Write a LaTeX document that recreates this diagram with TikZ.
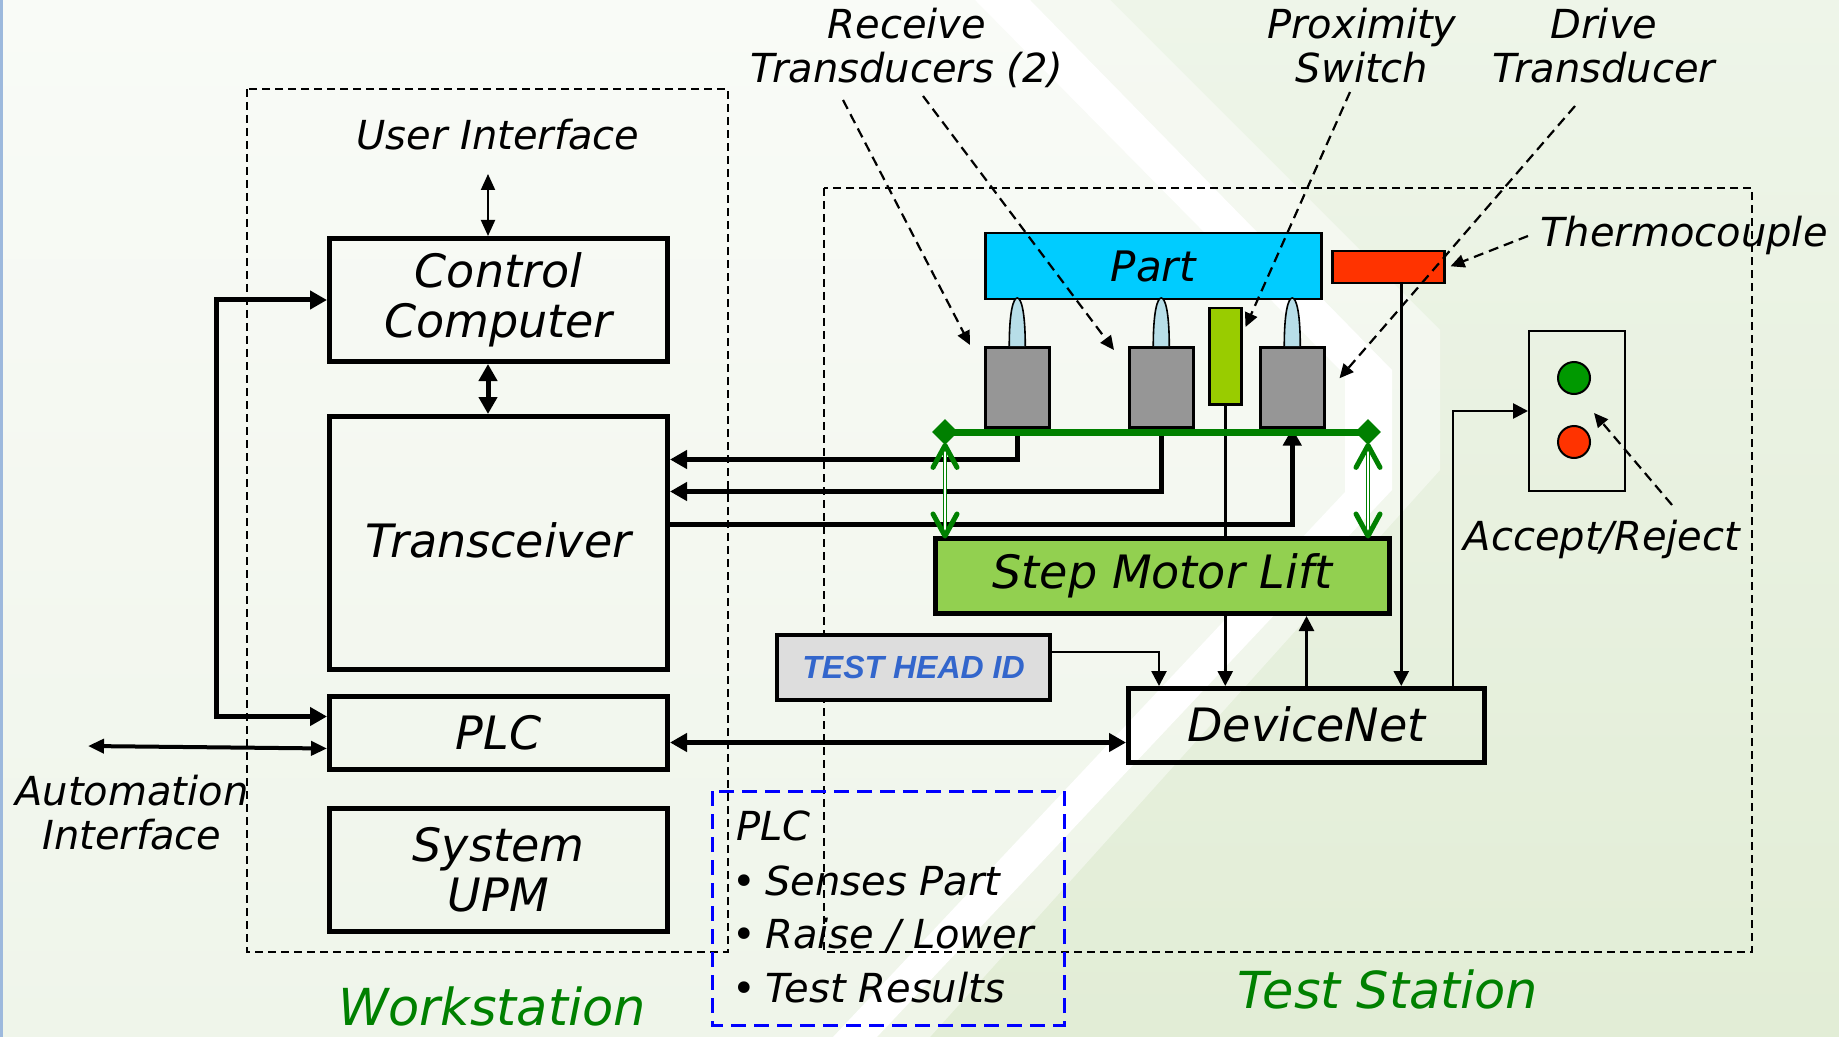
\documentclass[tikz,border=0pt]{standalone}
\usepackage{fontspec}
\setmainfont{DejaVu Sans}
\newfontfamily\arialfont{Liberation Sans}
\usetikzlibrary{arrows.meta,shapes.geometric,calc}
\definecolor{bgA}{HTML}{F9FBF7}
\definecolor{bgD}{HTML}{EFF5EA}
\definecolor{bgB}{HTML}{EEF5E9}
\definecolor{bgC}{HTML}{E2EDD6}
\definecolor{partblue}{HTML}{00CCFF}
\definecolor{smgreen}{HTML}{92D050}
\definecolor{proxgreen}{HTML}{99CC00}
\definecolor{tcred}{HTML}{FF3300}
\definecolor{tdgray}{HTML}{969696}
\definecolor{probec}{HTML}{B7DEE8}
\definecolor{busgreen}{HTML}{008000}
\definecolor{lampgreen}{HTML}{009900}
\definecolor{thidgray}{HTML}{DDDDDD}
\definecolor{thidblue}{HTML}{3366CC}
\definecolor{edgeblue}{HTML}{9DB9DD}
\tikzset{
  box/.style={draw=black, line width=2.5pt, inner sep=0pt, anchor=north west,
    font=\fontsize{23}{25}\selectfont\itshape, align=center},
  dev/.style={draw=black, line width=1.25pt, inner sep=0pt, anchor=north west},
  lbl/.style={font=\fontsize{20}{22}\selectfont\itshape, inner sep=0pt, align=center},
  bigl/.style={font=\fontsize{25.5}{27}\selectfont\itshape, text=busgreen, inner sep=0pt},
  notetext/.style={font=\fontsize{20}{22}\selectfont\itshape, inner sep=0pt},
  regionbox/.style={draw=black, line width=0.8pt, dash pattern=on 4pt off 2.5pt},
  notebox/.style={draw=blue, line width=1.5pt, dash pattern=on 7.5pt off 4pt},
  thickc/.style={draw=black, line width=2.5pt},
  medc/.style={draw=black, line width=1.3pt},
  thinc/.style={draw=black, line width=1pt},
  autoc/.style={draw=black, line width=2pt},
  ttip/.tip={Triangle[length=8.5pt,width=9pt]},
  mtip/.tip={Triangle[length=7.5pt,width=7.5pt]},
  stip/.tip={Triangle[length=8pt,width=7pt]},
  callout/.style={draw=black, line width=1.1pt, dash pattern=on 5pt off 3pt,
    -{Triangle[length=7pt,width=6.5pt]}},
  gdouble/.style={draw=busgreen, line width=0.6pt, double=white, double distance=1pt},
  gchev/.style={draw=busgreen, line width=2.5pt, line cap=round, line join=round},
  probe/.style={draw=black, line width=0.8pt, fill=probec},
}
\begin{document}
\begin{tikzpicture}[x=0.5pt,y=-0.5pt]
\useasboundingbox (0,0) rectangle (1839,1037);
% background
\shade[top color=bgA, bottom color=bgD] (0,0) rectangle (1839,1037);
\shade[top color=bgB, bottom color=bgC] (1030,0) -- (1839,0) -- (1839,1037) -- (877,1037) -- (1392,490) -- (1392,370) -- cycle;
\fill[white, opacity=0.45] (1030,0) -- (1110,0) -- (1440,330) -- (1440,470) -- (930,1037) -- (877,1037) -- (1392,490) -- (1392,370) -- cycle;
\fill[white] (975,0) -- (1030,0) -- (1392,370) -- (1392,490) -- (877,1037) -- (833,1037) -- (1345,492) -- (1345,375) -- cycle;
\fill[edgeblue] (0,0) rectangle (3,1037);
% region boxes
\draw[regionbox] (247,89) rectangle (728,952);
\draw[regionbox] (824,188) rectangle (1752,952);
\draw[notebox] (712,791) rectangle (1064,1025);

% workstation nodes
\node[box, minimum width=169pt, minimum height=61.5pt] (cc) at (327,236) {Control\\Computer};
\node[box, minimum width=169pt, minimum height=126.5pt] (trans) at (327,414) {\raisebox{2.5pt}{Transceiver}};
\node[box, minimum width=169pt, minimum height=36.5pt] (plc) at (327,694) {\raisebox{1pt}{PLC}};
\node[box, minimum width=169pt, minimum height=61.5pt] (upm) at (327,806) {System\\UPM};

% test station nodes
\node[box, fill=smgreen, minimum width=227pt, minimum height=37.5pt] (sml) at (933,536) {Step Motor Lift};
\node[box, minimum width=178pt, minimum height=37pt] (dnet) at (1126,686) {\raisebox{1pt}{DeviceNet}};
\node[box, fill=thidgray, line width=2pt, minimum width=136.5pt, minimum height=32.5pt,
  font=\arialfont\bfseries\itshape\fontsize{16}{18}\selectfont, text=thidblue] (thid) at (775,633) {TEST HEAD ID};

\node[dev, fill=partblue, minimum width=168pt, minimum height=33pt, font=\fontsize{21}{23}\selectfont\itshape] (part) at (984,232) {Part};
\node[dev, fill=tdgray, minimum width=32pt, minimum height=40pt] (t1) at (984,346) {};
\node[dev, fill=tdgray, minimum width=32pt, minimum height=40pt] (t2) at (1128,346) {};
\node[dev, fill=tdgray, minimum width=32pt, minimum height=40pt] (t3) at (1259,346) {};
\node[dev, fill=proxgreen, minimum width=16pt, minimum height=48pt] (prox) at (1208,307) {};
\node[dev, fill=tcred, minimum width=56pt, minimum height=16pt] (thermo) at (1331,250) {};
\node[dev, line width=1pt, minimum width=48pt, minimum height=80pt] (lamp) at (1528,330) {};
\node[circle, draw=black, line width=1pt, fill=lampgreen, minimum size=16pt, inner sep=0pt] (gl) at (1574,378) {};
\node[circle, draw=black, line width=1pt, fill=tcred, minimum size=16pt, inner sep=0pt] (rl) at (1574,442) {};

% probes
\foreach \t in {t1,t2,t3}{
  \draw[probe] ($(\t.north)+(-8,0)$) .. controls ($(\t.north)+(-8,-34)$) and ($(\t.north)+(-4,-48)$) .. ($(\t.north)+(0,-48)$)
    .. controls ($(\t.north)+(4,-48)$) and ($(\t.north)+(8,-34)$) .. ($(\t.north)+(8,0)$);
}

% labels (multi-line nodes: base = last line)
\node[lbl, anchor=base] (ui) at (498,150) {User Interface};
\node[lbl, anchor=base] (autol) at (132,849) {Automation\\Interface};
\node[lbl, anchor=base] (recv) at (907,83) {Receive\\Transducers (2)};
\node[lbl, anchor=base] (proxl) at (1362,83) {Proximity\\Switch};
\node[lbl, anchor=base] (drivel) at (1604,83) {Drive\\Transducer};
\node[lbl, anchor=base] (tcl) at (1684,247) {Thermocouple};
\node[lbl, anchor=base] (arl) at (1602,550) {Accept/Reject};
\node[bigl, anchor=base] (wsl) at (492,1025) {Workstation};
\node[bigl, anchor=base] (tsl) at (1388,1008) {Test Station};

% PLC note
\node[notetext, anchor=base west] (n0) at (736,840) {PLC};
\node[notetext, anchor=base west] (n1) at (732,895) {\makebox[16.5pt][l]{•}Senses Part};
\node[notetext, anchor=base west] (n2) at (732,948) {\makebox[16.5pt][l]{•}Raise / Lower};
\node[notetext, anchor=base west] (n3) at (732,1002) {\makebox[16.5pt][l]{•}Test Results};

% workstation connectors
\coordinate (uia) at (488,174);
\draw[thinc, stip-stip] (uia) -- (uia |- cc.north);
\draw[thickc, ttip-ttip] (cc.south -| uia) -- (trans.north -| uia);
\coordinate (busx) at (216,0);
\draw[thickc, ttip-ttip] (cc.west) -- (cc.west -| busx) -- ([yshift=8.25pt]plc.west -| busx) -- ([yshift=8.25pt]plc.west);
\coordinate (autoend) at (88,746);
\draw[autoc, stip-stip] (autoend) -- ([yshift=-7.75pt]plc.west);
\draw[thickc, ttip-ttip] ([yshift=-4.75pt]plc.east) -- ([yshift=-4.75pt]plc.east -| dnet.west);

% transceiver lines
\draw[thickc, -ttip] (t1.south) |- ([yshift=41.75pt]trans.east);
\draw[thickc, -ttip] (t2.south) |- ([yshift=25.75pt]trans.east);
\draw[thickc, -ttip] ([yshift=9.25pt]trans.east) -| (t3.south);

% device net connectors
\draw[medc] (prox.south) -- (prox.south |- sml.north);
\draw[medc, -mtip] (prox.south |- sml.south) -- (prox.south |- dnet.north);
\draw[medc, -mtip] (dnet.north) -- (dnet.north |- sml.south);
\coordinate (tcx) at ([xshift=6.5pt]thermo.south);
\draw[medc, -mtip] (tcx) -- (tcx |- dnet.north);
\draw[medc, -mtip] ([xshift=-17pt]dnet.north east) |- (lamp.west);
\draw[medc, -mtip] ([yshift=7.75pt]thid.east) -| ([xshift=16.5pt]dnet.north west);

% green bus
\node[diamond, fill=busgreen, minimum width=13pt, minimum height=13pt, inner sep=0pt] (dl) at (945,432) {};
\node[diamond, fill=busgreen, minimum width=13pt, minimum height=13pt, inner sep=0pt] (dr) at (1368,432) {};
\draw[busgreen, line width=3.5pt] (dl.center) -- (dr.center);
\foreach \d in {dl,dr}{
  \coordinate (\d b) at (\d.south |- sml.north);
  \draw[gdouble] (\d.south) -- (\d b);
  \draw[gchev] ($(\d.south)+(-12,22)$) -- (\d.south) -- ($(\d.south)+(12,22)$);
  \draw[gchev] ($(\d b)+(-12,-22)$) -- (\d b) -- ($(\d b)+(12,-22)$);
}

% callouts
\coordinate (rs1) at (843,100);
\coordinate (rs2) at (923,96);
\draw[callout] (rs1) -- ($(t1.north west)+(-14,-1)$);
\draw[callout] (rs2) -- ($(t2.north west)+(-14,4)$);
\coordinate (ps) at (1350,92);
\draw[callout] (ps) -- ($(prox.north east)+(3,20)$);
\coordinate (ds) at (1575,106);
\draw[callout] (ds) -- ($(t3.east)+(14,-9)$);
\draw[callout] ($(tcl.west)+(-12,0)$) -- ($(thermo.east)+(5,-1)$);
\coordinate (as) at (1672,505);
\draw[callout] (as) -- ($(lamp.center)+(17,2)$);
\end{tikzpicture}
\end{document}
